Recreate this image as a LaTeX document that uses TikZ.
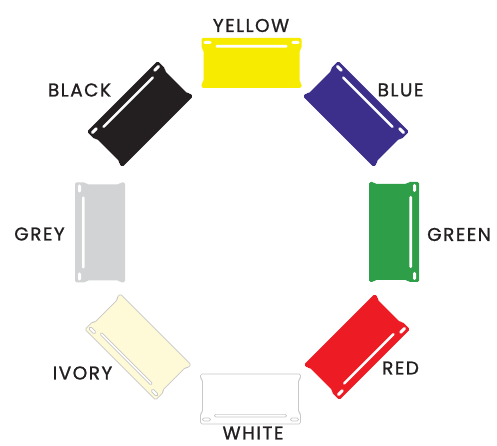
\documentclass[tikz,border=0pt]{standalone}
\usepackage{fontspec}
\setmainfont{Poppins}
\newfontfamily\labfont{Poppins}[LetterSpace=8, FakeBold=1]
\definecolor{tyellow}{RGB}{247,236,0}
\definecolor{tblue}{RGB}{59,47,139}
\definecolor{tgreen}{RGB}{46,158,72}
\definecolor{tred}{RGB}{237,28,36}
\definecolor{tivory}{RGB}{254,249,215}
\definecolor{tgrey}{RGB}{209,211,212}
\definecolor{tblack}{RGB}{35,31,32}
\definecolor{tline}{RGB}{200,200,200}
\definecolor{ttext}{RGB}{35,31,32}
\newcommand{\mytile}[5]{%
  \coordinate (#1) at (#2,#3);
  \begin{scope}[shift={(#2,#3)}, rotate=#4]
    \path[#5, rounded corners=1.5pt] (-50,25) -- (50,25) -- (50,14.5) -- (48,13) -- (48,-19) -- (50,-20.5) -- (50,-25) -- (-50,-25) -- (-50,-20.5) -- (-48,-19) -- (-48,13) -- (-50,14.5) -- cycle;
    \path[#5, fill=white, rounded corners=1.4pt] (-48,19) rectangle (-40,22);
    \path[#5, fill=white, rounded corners=1.4pt] (40,19) rectangle (48,22);
    \path[#5, fill=white, rounded corners=1.2pt] (-36,15.4) rectangle (36,18);
  \end{scope}}
\tikzset{
  solid tile/.style={fill=#1, draw=none},
  pale tile/.style={fill=#1, draw=tline, line width=0.7pt},
  lab/.style={text=ttext, font=\labfont\fontsize{18.5}{22}\selectfont, inner sep=0pt}
}
\begin{document}
\begin{tikzpicture}[x=1pt, y=1pt]
  \useasboundingbox[fill=white] (0,0) rectangle (497,446);
  \mytile{yellow}{251.5}{383}{0}{solid tile=tyellow}
  \mytile{blue}{356}{332}{-45}{solid tile=tblue}
  \mytile{green}{394}{214}{-90}{solid tile=tgreen}
  \mytile{red}{357}{99}{-135}{solid tile=tred}
  \mytile{white}{250.5}{47}{180}{pale tile=white}
  \mytile{ivory}{138}{99}{135}{pale tile=tivory}
  \mytile{grey}{100}{213.5}{90}{solid tile=tgrey}
  \mytile{black}{140}{332}{45}{solid tile=tblack}
  \node[lab] (lyellow) at (251,420.5) {YELLOW};
  \node[lab] (lblue) at (400.5,356) {BLUE};
  \node[lab] (lgreen) at (459,211.5) {GREEN};
  \node[lab] (lred) at (400.5,78) {RED};
  \node[lab] (lwhite) at (253,13) {WHITE};
  \node[lab] (livory) at (82.5,73) {IVORY};
  \node[lab] (lgrey) at (39.5,212) {GREY};
  \node[lab] (lblack) at (79.5,356) {BLACK};
\end{tikzpicture}
\end{document}
